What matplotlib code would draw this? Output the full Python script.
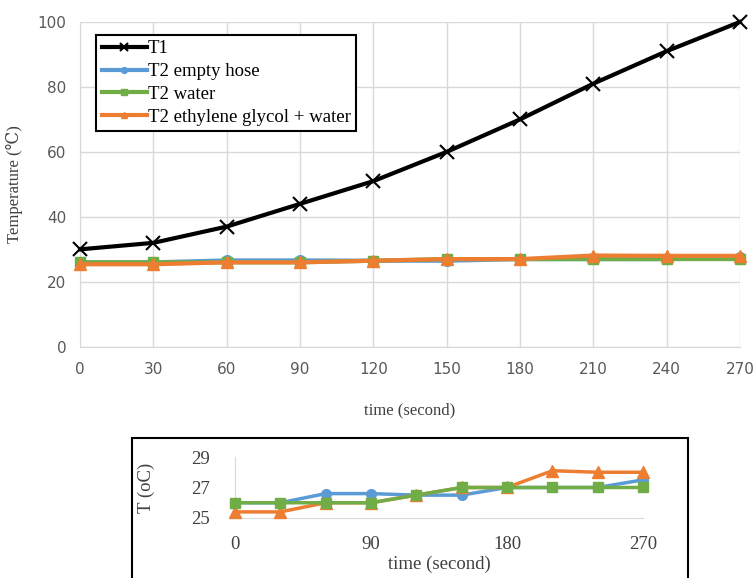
import matplotlib
matplotlib.use("Agg")
import matplotlib.pyplot as plt
from matplotlib.patches import Rectangle

time = [0, 30, 60, 90, 120, 150, 180, 210, 240, 270]
t1 = [30, 32, 37, 44, 51, 60, 70, 81, 91, 100]
t2_empty = [26, 26, 26.6, 26.6, 26.5, 26.5, 27, 27, 27, 27.5]
t2_water = [26, 26, 26, 26, 26.5, 27, 27, 27, 27, 27]
t2_eg = [25.4, 25.4, 26, 26, 26.5, 27, 27, 28.1, 28, 28]

main_xticks = [0, 30, 60, 90, 120, 150, 180, 210, 240, 270]
main_yticks = [0, 20, 40, 60, 80, 100]
inset_xticks = [0, 90, 180, 270]
inset_yticks = [25, 27, 29]

BLUE = "#5B9BD5"
GREEN = "#70AD47"
ORANGE = "#ED7D31"
SERIF = ["Liberation Serif", "DejaVu Serif", "DejaVu Sans"]
SANS = "DejaVu Sans"

fig = plt.figure(figsize=(7.55, 5.78), dpi=100)
ax = fig.add_axes([0.106, 0.400, 0.874, 0.562])

lw = 3
ax.plot(time, t1, color="black", lw=lw, marker="x", ms=10, mew=1.5, label="T1", zorder=5)
ax.plot(time, t2_empty, color=BLUE, lw=lw, marker="o", ms=7, label="T2 empty hose", zorder=4)
ax.plot(time, t2_water, color=GREEN, lw=lw, marker="s", ms=7, label="T2 water", zorder=4)
ax.plot(time, t2_eg, color=ORANGE, lw=lw, marker="^", ms=8, label="T2 ethylene glycol + water", zorder=5)

ax.set_xlim(0, 270)
ax.set_ylim(0, 100)
ax.set_xticks(main_xticks)
ax.set_yticks(main_yticks)
ax.grid(True, color="#D9D9D9", lw=1)
ax.set_axisbelow(True)
for s in ["top", "right"]:
    ax.spines[s].set_visible(False)
for s in ["left", "bottom"]:
    ax.spines[s].set_color("#D9D9D9")
ax.tick_params(axis="x", length=0, labelsize=11, colors="#595959", pad=11)
ax.tick_params(axis="y", length=0, labelsize=11, colors="#595959", pad=10)
for lab in ax.get_xticklabels() + ax.get_yticklabels():
    lab.set_family(SANS)
ax.set_xlabel("time (second)", family=SERIF, fontsize=12, color="#404040", labelpad=18)
ax.set_ylabel("Temperature (℃)", family=SERIF, fontsize=12, color="#404040", labelpad=10)
for line in ax.lines:
    line.set_clip_on(False)

leg = ax.legend(loc="upper left", bbox_to_anchor=(0.010, 0.99), prop={"family": SERIF, "size": 13.5},
                frameon=True, fancybox=False, edgecolor="black", framealpha=1,
                handlelength=2.4, handletextpad=0.05, borderpad=0.3, labelspacing=0.3,
                markerscale=0.6)
leg.get_frame().set_linewidth(1.5)

# inset box
rect = Rectangle((132 / 755, -0.05), (688 - 132) / 755, 1 - 438 / 578 + 0.05,
                 transform=fig.transFigure, fill=False, edgecolor="black", lw=1.5)
fig.patches.append(rect)

ax2 = fig.add_axes([235 / 755, 1 - 518 / 578, (643 - 235) / 755, (518 - 457) / 578])
ax2.plot(time, t2_empty, color=BLUE, lw=2.5, marker="o", ms=7, zorder=3)
ax2.plot(time, t2_eg, color=ORANGE, lw=2.5, marker="^", ms=8, zorder=4)
ax2.plot(time, t2_water, color=GREEN, lw=2.5, marker="s", ms=7, zorder=5)
ax2.set_xlim(0, 270)
ax2.set_ylim(25, 29)
ax2.set_xticks(inset_xticks)
ax2.set_yticks(inset_yticks)
for s in ["top", "right"]:
    ax2.spines[s].set_visible(False)
for s in ["left", "bottom"]:
    ax2.spines[s].set_color("#D9D9D9")
ax2.tick_params(axis="x", length=0, labelsize=13.5, colors="#404040", pad=13)
ax2.tick_params(axis="y", length=0, labelsize=13.5, colors="#404040", pad=18)
for lab in ax2.get_xticklabels() + ax2.get_yticklabels():
    lab.set_family(SERIF)
ax2.set_xlabel("time (second)", family=SERIF, fontsize=13.5, color="#404040", labelpad=2)
ax2.set_ylabel("T (oC)", family=SERIF, fontsize=13.5, color="#404040", labelpad=26)
for line in ax2.lines:
    line.set_clip_on(False)

fig.savefig("out.png", dpi=100)
